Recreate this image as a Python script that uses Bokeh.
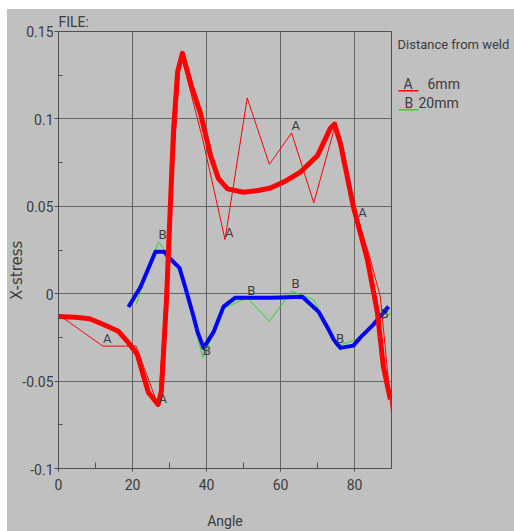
from bokeh.plotting import figure
from bokeh.models import Range1d, FixedTicker, Spacer
from bokeh.layouts import column, row
from bokeh.embed import file_html
from bokeh.resources import INLINE
from bokeh.core.properties import value
import math

# ---------------- data ----------------
# Series A (6mm) raw points (thin line)
a_raw_angle = [0, 12, 21, 27, 33, 39, 45, 51, 57, 63, 69, 75, 81, 84, 87, 90]
a_raw_val = [-0.012, -0.030, -0.030, -0.0645, 0.138, 0.088, 0.031, 0.112, 0.074,
             0.092, 0.052, 0.098, 0.042, 0.022, -0.002, -0.068]
# Series A smoothed (thick line)
a_fit_angle = [0, 4.5, 8.4, 12.0, 16.2, 18.9, 21.3, 23.0, 24.3, 26.2, 26.9, 27.8, 29.2,
               30.3, 31.1, 32.2, 33.5, 35.9, 38.4, 41.1, 43.2, 45.7, 50.0, 54.0, 57.3,
               61.4, 65.4, 70.0, 73.5, 74.6, 76.2, 79.7, 83.5, 86.2, 87.8, 89.7]
a_fit_val = [-0.013, -0.0135, -0.0143, -0.0175, -0.0215, -0.028, -0.0348, -0.0472,
             -0.0565, -0.0615, -0.0634, -0.056, -0.003, 0.054, 0.094, 0.127, 0.1375,
             0.119, 0.103, 0.079, 0.066, 0.060, 0.058, 0.059, 0.0605, 0.0645, 0.0696,
             0.079, 0.0947, 0.097, 0.086, 0.0497, 0.0194, -0.0108, -0.0417, -0.0605]
a_label_angles = [12, 27, 45, 63, 81]

# Series B (20mm) raw points (thin line)
b_raw_angle = [21, 27, 33, 39, 45, 51, 57, 63, 69, 75, 81, 87, 90]
b_raw_val = [-0.006, 0.0297, 0.013, -0.0365, -0.008, -0.0023, -0.0158, 0.0015,
             -0.0034, -0.030, -0.026, -0.0154, -0.011]
# Series B smoothed (thick line)
b_fit_angle = [18.9, 22.2, 26.2, 28.6, 29.7, 32.7, 34.3, 36.5, 37.6, 39.2, 41.9, 44.6,
               47.8, 57.8, 65.9, 70.3, 73.0, 74.3, 76.2, 79.7, 81.6, 85.1, 89.2]
b_fit_val = [-0.0076, 0.004, 0.024, 0.024, 0.021, 0.0148, 0.0034, -0.013, -0.022,
             -0.031, -0.022, -0.0074, -0.0023, -0.0023, -0.0017, -0.0103, -0.0205,
             -0.026, -0.031, -0.0297, -0.025, -0.0177, -0.0074]
b_label_angles = [27, 39, 51, 63, 75, 87]

series_codes = ["A", "B"]
series_names = ["6mm", "20mm"]
series_colors = ["#ff0000", "#22dd22"]
legend_title = "Distance from weld"
y_title = "X-stress"
x_title = "Angle"
file_title = "FILE:"

x_ticks = [0, 20, 40, 60, 80]
x_minor = [10, 30, 50, 70]
y_ticks = [-0.1, -0.05, 0, 0.05, 0.1, 0.15]
y_tick_labels = ["-0.1", "-0.05", "0", "0.05", "0.1", "0.15"]
y_minor = [-0.075, -0.025, 0.025, 0.075, 0.125]

BG = "#c0c0c0"
TXT = "#3c3c3c"
FONT = "Roboto"
H = 522
TOP, BOTTOM = 22, 62   # border sizes of the main plot
Y_RANGE = (-0.1, 0.15)


def blank_panel(width, xr, yr, top=TOP, bottom=BOTTOM):
    f = figure(width=width, height=H, x_range=xr, y_range=yr,
               output_backend="svg", toolbar_location=None, title=None,
               min_border_left=0, min_border_right=0,
               min_border_top=top, min_border_bottom=bottom,
               x_axis_location=None, y_axis_location=None)
    f.background_fill_color = BG
    f.border_fill_color = BG
    f.outline_line_color = None
    f.grid.visible = False
    return f


# ---------------- left panel: y tick labels and y-axis title ----------------
# This panel's frame spans its whole height; its y scale continues the main plot's.
per_px = (Y_RANGE[1] - Y_RANGE[0]) / (H - TOP - BOTTOM)
full_range = (Y_RANGE[0] - BOTTOM * per_px, Y_RANGE[1] + TOP * per_px)
pl = blank_panel(46, Range1d(7, 53), Range1d(*full_range), top=0, bottom=0)
try:
    pl.frame_align = False
except Exception:
    pl.min_border_top = TOP
    pl.min_border_bottom = BOTTOM
    pl.y_range = Range1d(*Y_RANGE)
pl.text([53] * len(y_ticks), y_ticks, text=y_tick_labels, text_font=value(FONT),
        text_font_size="14px", text_color=TXT, text_align="right", text_baseline="middle")
pl.text([16], [0.0137], text=[y_title], angle=math.pi / 2, text_font=value("DejaVu Sans"),
        text_font_size="15px", text_color=TXT, text_align="center", text_baseline="middle")

# ---------------- main plot ----------------
p = figure(width=339, height=H, x_range=Range1d(0, 90), y_range=Range1d(*Y_RANGE),
           output_backend="svg", toolbar_location=None,
           min_border_left=5, min_border_right=1, min_border_top=TOP, min_border_bottom=BOTTOM)
p.background_fill_color = BG
p.border_fill_color = BG
p.outline_line_color = "#505050"
p.outline_line_width = 1

p.title.text = file_title
p.title.text_font = FONT
p.title.text_font_size = "14px"
p.title.text_font_style = "normal"
p.title.text_color = TXT
p.title.align = "left"
p.title.standoff = 3

p.xaxis.ticker = FixedTicker(ticks=x_ticks, minor_ticks=x_minor)
p.yaxis.ticker = FixedTicker(ticks=y_ticks, minor_ticks=y_minor)
p.yaxis.major_label_overrides = {t: "" for t in y_ticks}

for ax in (p.xaxis[0], p.yaxis[0]):
    ax.axis_line_color = "#505050"
    ax.major_tick_line_color = "#505050"
    ax.minor_tick_line_color = "#505050"
    ax.major_tick_in = 0
    ax.minor_tick_out = 0
    ax.major_label_text_font = FONT
    ax.major_label_text_font_size = "14px"
    ax.major_label_text_color = TXT
    ax.axis_label_text_color = TXT
    ax.axis_label_text_font_style = "normal"

p.xaxis.major_tick_out = 3
p.xaxis.minor_tick_in = 6
p.xaxis.major_label_standoff = 7
p.xaxis.axis_label = x_title
p.xaxis.axis_label_text_font = FONT
p.xaxis.axis_label_text_font_size = "14px"
p.xaxis.axis_label_standoff = 20

p.yaxis.major_tick_out = 4
p.yaxis.minor_tick_in = 4
p.yaxis.major_label_standoff = 0

p.grid.grid_line_color = "#646464"
p.grid.grid_line_width = 1

p.line(b_raw_angle, b_raw_val, line_color=series_colors[1], line_width=1)
p.line(b_fit_angle, b_fit_val, line_color="#0000ff", line_width=4, line_join="round")
p.line(a_raw_angle, a_raw_val, line_color=series_colors[0], line_width=1)
p.line(a_fit_angle, a_fit_val, line_color=series_colors[0], line_width=5, line_join="round")

a_lx = [x for x in a_raw_angle if x in a_label_angles]
a_ly = [v for x, v in zip(a_raw_angle, a_raw_val) if x in a_label_angles]
b_lx = [x for x in b_raw_angle if x in b_label_angles]
b_ly = [v for x, v in zip(b_raw_angle, b_raw_val) if x in b_label_angles]
p.text(a_lx, a_ly, text=[series_codes[0]] * len(a_lx), text_font=value(FONT),
       text_font_size="13px", text_color=TXT, text_align="left", text_baseline="bottom")
p.text(b_lx, b_ly, text=[series_codes[1]] * len(b_lx), text_font=value(FONT),
       text_font_size="13px", text_color=TXT, text_align="left", text_baseline="bottom")

# ---------------- legend panel ----------------
p2 = blank_panel(122, Range1d(392, 514), Range1d(469, 31))
p2.text([397], [44], text=[legend_title], text_font=value(FONT), text_font_size="13px",
        text_color=TXT, text_align="left", text_baseline="middle")
rows_y = [84, 103]
code_x = [403, 404]
name_x = [427, 418]
for i in range(len(series_codes)):
    p2.segment(x0=[398], y0=[rows_y[i] + 6.5], x1=[418], y1=[rows_y[i] + 6.5],
               line_color=series_colors[i], line_width=1.5)
    p2.text([code_x[i]], [rows_y[i]], text=[series_codes[i]], text_font=value(FONT),
            text_font_size="14px", text_color=TXT, text_align="left", text_baseline="middle")
    p2.text([name_x[i]], [rows_y[i]], text=[series_names[i]], text_font=value(FONT),
            text_font_size="14px", text_color=TXT, text_align="left", text_baseline="middle")

layout = column(Spacer(width=514, height=9),
                row(Spacer(width=7, height=H),
                    row(pl, p, p2, styles={"background-color": BG})))

open("out.html", "w").write(file_html(layout, INLINE))
